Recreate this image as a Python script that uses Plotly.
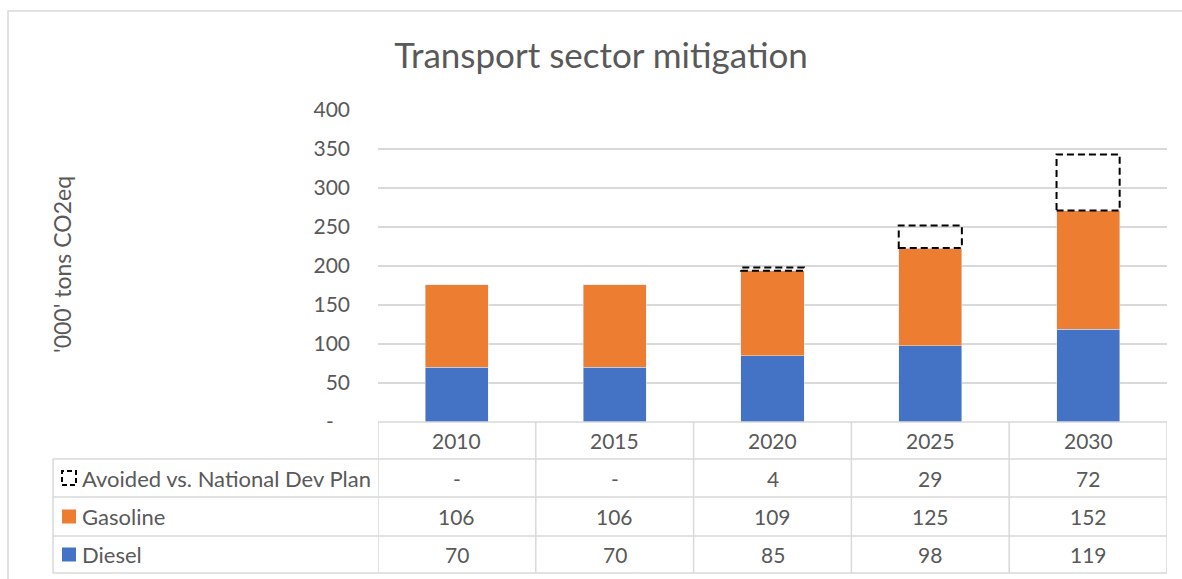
import plotly.graph_objects as go

# ---- data ------------------------------------------------------------
years = ["2010", "2015", "2020", "2025", "2030"]
diesel = [70, 70, 85, 98, 119]
gasoline = [106, 106, 109, 125, 152]
avoided = [0, 0, 4, 29, 72]
series_names = ["Avoided vs. National Dev Plan", "Gasoline", "Diesel"]
y_ticks = [0, 50, 100, 150, 200, 250, 300, 350, 400]

BLUE = "#4472C4"
ORANGE = "#ED7D31"
GRID = "#D9D9D9"
TXT = "#595959"
FONT = "Lato"

W, H = 1182, 579
ML, MR, MT, MB = 378, 15, 110, 157
PW, PH = W - ML - MR, H - MT - MB


def px(x):
    """pixel x -> paper x"""
    return (x - ML) / PW


def py(y):
    """pixel y -> paper y"""
    return (H - MB - y) / PH


fig = go.Figure()
fig.add_trace(go.Bar(x=years, y=diesel, name="Diesel", marker_color=BLUE))
fig.add_trace(go.Bar(x=years, y=gasoline, name="Gasoline", marker_color=ORANGE))
fig.add_trace(go.Bar(x=years, y=avoided, name=series_names[0],
                     marker=dict(color="rgba(0,0,0,0)")))

shapes = []
annotations = []

# dashed outlines for the avoided emissions
half = 0.2
for i, (d, g, a) in enumerate(zip(diesel, gasoline, avoided)):
    if a > 0:
        base = d + g
        shapes.append(dict(type="rect", xref="x", yref="y",
                           x0=i - half, x1=i + half, y0=base, y1=base + a,
                           line=dict(color="black", width=2, dash="7px,4px"),
                           fillcolor="rgba(0,0,0,0)", layer="above"))

# ---- data table under the plot -----------------------------------------
row_edges = [422, 459, 497, 536, 573]
tbl_left = 53
line_style = dict(color=GRID, width=1.5)

# horizontal rules
shapes.append(dict(type="line", xref="x", yref="paper", x0=-0.5, x1=len(years) - 0.5,
                   y0=py(row_edges[0]), y1=py(row_edges[0]), line=line_style))
for ry in row_edges[1:]:
    shapes.append(dict(type="line", xref="paper", yref="paper", x0=px(tbl_left), x1=1,
                       y0=py(ry), y1=py(ry), line=line_style))
# vertical rules
shapes.append(dict(type="line", xref="paper", yref="paper", x0=px(tbl_left), x1=px(tbl_left),
                   y0=py(row_edges[1]), y1=py(row_edges[-1]), line=line_style))
for i in range(len(years) + 1):
    shapes.append(dict(type="line", xref="x", yref="paper", x0=i - 0.5, x1=i - 0.5,
                       y0=py(row_edges[0]), y1=py(row_edges[-1]), line=line_style))

row_mid = [(row_edges[k] + row_edges[k + 1]) / 2 for k in range(4)]
num_font = dict(family=FONT, size=21, color=TXT)
label_font = dict(family=FONT, size=22, color=TXT)

# header row: years
for i, yr in enumerate(years):
    annotations.append(dict(x=i, y=py(row_mid[0]), xref="x", yref="paper", text=yr,
                            showarrow=False, font=num_font, xanchor="center", yanchor="middle"))

# series rows
rows = [
    (series_names[0], avoided),
    (series_names[1], gasoline),
    (series_names[2], diesel),
]
for k, (name, vals) in enumerate(rows):
    cy = row_mid[k + 1]
    annotations.append(dict(x=px(80), y=py(cy), xref="paper", yref="paper", text=name,
                            showarrow=False, font=label_font, xanchor="left", yanchor="middle"))
    for i, v in enumerate(vals):
        annotations.append(dict(x=i, y=py(cy), xref="x", yref="paper",
                                text=str(v) if v else "-", showarrow=False,
                                font=num_font, xanchor="center", yanchor="middle"))

# legend keys inside the table
key = 14
key_x0 = 62
for k, color in enumerate([None, ORANGE, BLUE]):
    cy = row_mid[k + 1]
    box = dict(type="rect", xref="paper", yref="paper",
               x0=px(key_x0), x1=px(key_x0 + key),
               y0=py(cy + key / 2), y1=py(cy - key / 2))
    if color is None:
        box.update(line=dict(color="black", width=2, dash="5px,3px"), fillcolor="white")
    else:
        box.update(line=dict(width=0), fillcolor=color)
    shapes.append(box)

# chart frame
shapes.append(dict(type="rect", xref="paper", yref="paper",
                   x0=px(8), x1=px(1200), y0=py(11), y1=py(600),
                   line=dict(color=GRID, width=1.5), fillcolor="rgba(0,0,0,0)", layer="below"))

# axis title
annotations.append(dict(x=px(62), y=py(265), xref="paper", yref="paper",
                        text="'000' tons CO2eq", textangle=-90, showarrow=False,
                        font=dict(family=FONT, size=23, color=TXT),
                        xanchor="center", yanchor="middle"))

fig.update_layout(
    width=W, height=H,
    margin=dict(l=ML, r=MR, t=MT, b=MB),
    paper_bgcolor="white", plot_bgcolor="white",
    barmode="stack", bargap=0.6,
    showlegend=False,
    title=dict(text="Transport sector mitigation", x=601 / W, xanchor="center",
               y=1 - 56 / H, yanchor="middle", yref="container",
               font=dict(family=FONT, size=35, color=TXT)),
    xaxis=dict(range=[-0.5, len(years) - 0.5], showticklabels=False, showgrid=False,
               zeroline=False, showline=False, ticks=""),
    yaxis=dict(range=[0, 400], tickvals=y_ticks,
               ticktext=["-\u00a0\u00a0\u00a0"] + [str(v) for v in y_ticks[1:]],
               showgrid=True, gridcolor=GRID, gridwidth=1.5, zeroline=False,
               showline=False, ticks="", ticklabelstandoff=27,
               tickfont=dict(family=FONT, size=21, color=TXT)),
    shapes=shapes,
    annotations=annotations,
    font=dict(family=FONT, color=TXT),
)

fig.write_html("out.html")
